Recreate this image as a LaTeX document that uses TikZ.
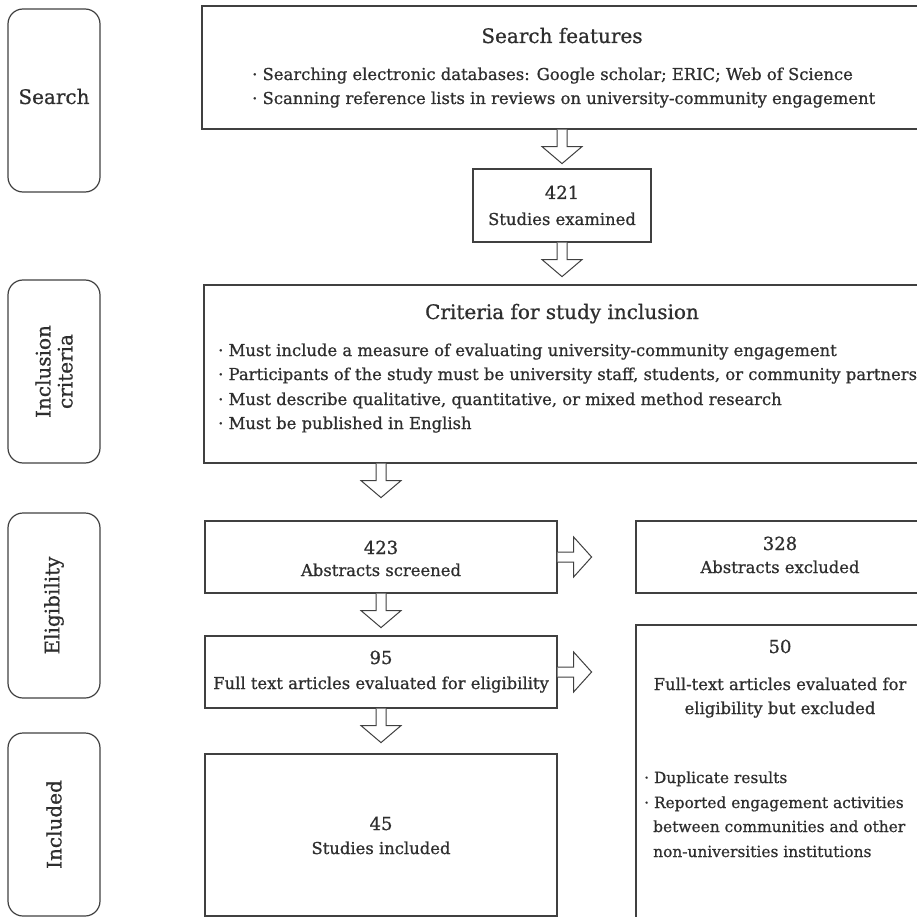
\documentclass[tikz,border=0pt]{standalone}
\usepackage{fontspec}
\setmainfont{DejaVu Serif}[FakeBold=0.8]
\usetikzlibrary{calc}
\definecolor{ink}{HTML}{2E2E2E}
\definecolor{edge}{HTML}{404040}
\newcommand\downblk[1]{\draw[blk] ([xshift=-5pt]#1) -- ++(0,17) -- ++(-15,0) -- ++(20,17) -- ++(20,-17) -- ++(-15,0) -- ++(0,-17);}
\newcommand\rightblk[1]{\draw[blk] ([yshift=5pt]#1) -- ++(16,0) -- ++(0,-15) -- ++(18,20) -- ++(-18,20) -- ++(0,-15) -- ++(-16,0);}
\begin{document}
\begin{tikzpicture}[x=1pt,y=-1pt,
  box/.style={draw=edge,line width=1.2pt,inner sep=0pt},
  side/.style={box,rounded corners=15pt},
  txt/.style={text=ink,inner sep=0pt,font=\fontsize{16.4}{24}\selectfont},
  small/.style={txt,font=\fontsize{15.4}{24}\selectfont},
  num/.style={txt,font=\fontsize{18}{22}\selectfont},
  head/.style={txt,font=\fontsize{20}{22}\selectfont},
  blk/.style={draw=edge,line width=1pt,fill=white,line join=miter}]
\useasboundingbox (0,0) rectangle (917,917);
% phase boxes
\node[side,minimum width=92pt,minimum height=183pt] (s1) at (54,100.5) {};
\node[side,minimum width=92pt,minimum height=183pt] (s2) at (54,371.5) {};
\node[side,minimum width=92pt,minimum height=185pt] (s3) at (54,605.5) {};
\node[side,minimum width=92pt,minimum height=183pt] (s4) at (54,824.5) {};
\node[head] (t1) at ([yshift=4pt]s1.center) {Search};
\node[head,rotate=90,align=center] (t2) at (s2) {Inclusion\\criteria};
\node[head,rotate=90] (t3) at (s3) {Eligibility};
\node[head,rotate=90] (t4) at (s4) {Included};
% main boxes
\node[box,minimum width=728pt,minimum height=123pt] (sf) at (566,67.5) {};
\node[box,minimum width=178pt,minimum height=73pt] (ex) at (562,205.5) {};
\node[box,minimum width=726pt,minimum height=178pt] (cr) at (567,374) {};
\node[box,minimum width=352pt,minimum height=72pt] (scr) at (381,557) {};
\node[box,minimum width=294pt,minimum height=72pt] (aex) at (783,557) {};
\node[box,minimum width=352pt,minimum height=72pt] (ft) at (381,672) {};
\node[box,minimum width=294pt,minimum height=310pt] (fex) at (783,780) {};
\node[box,minimum width=352pt,minimum height=162pt] (inc) at (381,835) {};
% texts
\node[head,anchor=base] (sfh) at (562,43) {Search features};
\node[txt,anchor=base west] (sf1) at (252,80) {· Searching electronic databases: Google scholar; ERIC; Web of Science};
\node[txt,anchor=base west] (sf2) at (252,104) {· Scanning reference lists in reviews on university-community engagement};
\node[num,anchor=base] (n1) at (562,199) {421};
\node[txt,anchor=base] (l1) at (562,225) {Studies examined};
\node[head,anchor=base] (crh) at (562,319) {Criteria for study inclusion};
\node[txt,anchor=base west] (c1) at (218,356) {· Must include a measure of evaluating university-community engagement};
\node[txt,anchor=base west] (c2) at (218,380) {· Participants of the study must be university staff, students, or community partners};
\node[txt,anchor=base west] (c3) at (218,405) {· Must describe qualitative, quantitative, or mixed method research};
\node[txt,anchor=base west] (c4) at (218,429) {· Must be published in English};
\node[num,anchor=base] (n2) at (381,554) {423};
\node[txt,anchor=base] (l2) at (381,576) {Abstracts screened};
\node[num,anchor=base] (n3) at (780,550) {328};
\node[txt,anchor=base] (l3) at (780,573) {Abstracts excluded};
\node[num,anchor=base] (n4) at (381,664) {95};
\node[txt,anchor=base] (l4) at (381,689) {Full text articles evaluated for eligibility};
\node[num,anchor=base] (n5) at (780,653) {50};
\node[txt,anchor=base] (l5a) at (780,690) {Full-text articles evaluated for};
\node[txt,anchor=base] (l5b) at (780,714) {eligibility but excluded};
\node[small,anchor=base west] (e1) at (644,783) {· Duplicate results};
\node[small,anchor=base west] (e2) at (644,808) {· Reported engagement activities};
\node[small,anchor=base west] (e3) at (653,832) {between communities and other};
\node[small,anchor=base west] (e4) at (653,857) {non-universities institutions};
\node[num,anchor=base] (n6) at (381,830) {45};
\node[txt,anchor=base] (l6) at (381,854) {Studies included};
% block arrows
\downblk{ex.north |- sf.south}
\downblk{ex.south}
\downblk{scr.north |- cr.south}
\downblk{scr.south}
\downblk{ft.south}
\rightblk{scr.east}
\rightblk{ft.east}
\end{tikzpicture}
\end{document}
